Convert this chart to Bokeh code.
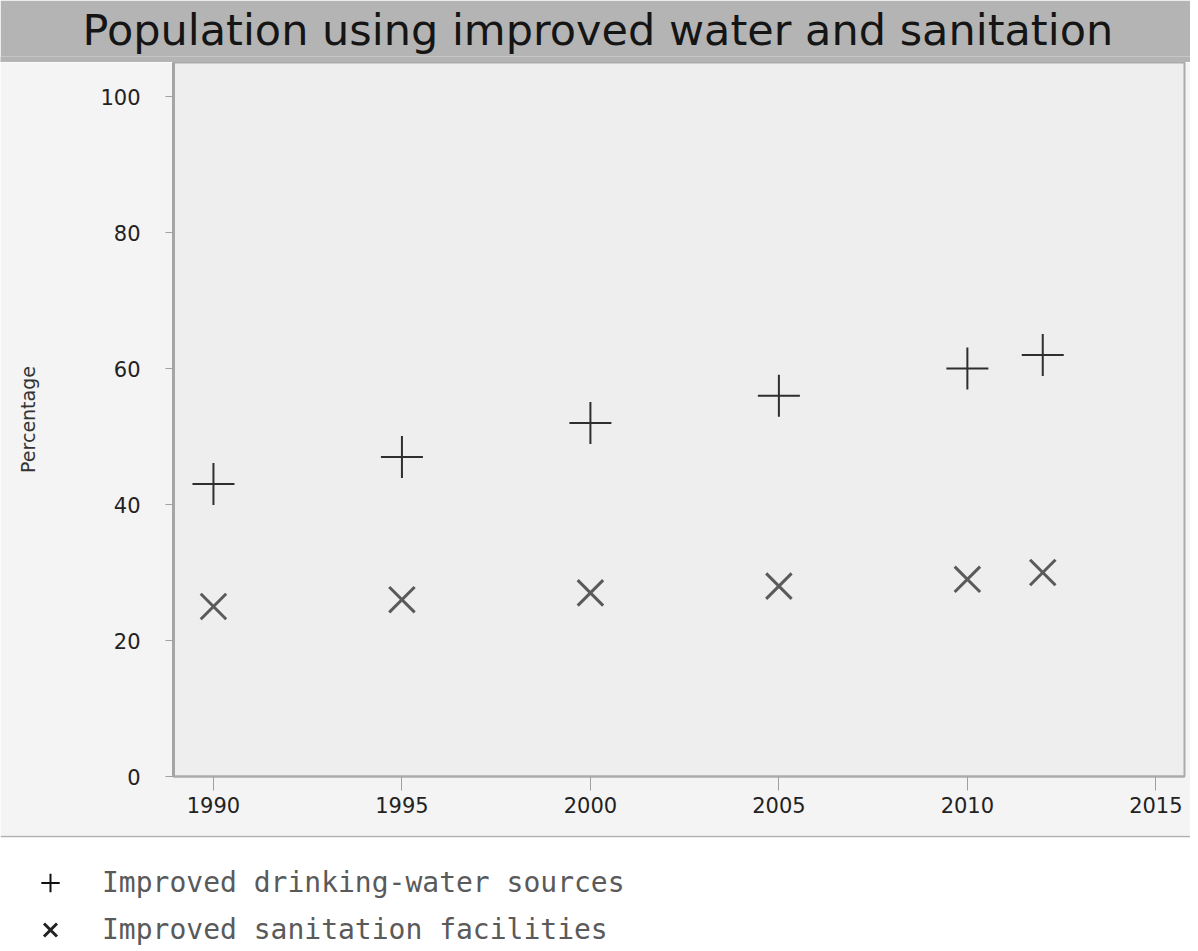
from bokeh.plotting import figure
from bokeh.models import Range1d, FixedTicker, Legend, LegendItem, ColumnDataSource
from bokeh.layouts import column
from bokeh.embed import file_html
from bokeh.resources import INLINE

# ---- data ----
title_text = "Population using improved water and sanitation"
years = [1990, 1995, 2000, 2005, 2010, 2012]
water = [43, 47, 52, 56, 60, 62]
sanitation = [25, 26, 27, 28, 29, 30]
x_ticks = [1990, 1995, 2000, 2005, 2010, 2015]
y_ticks = [0, 20, 40, 60, 80, 100]
series_labels = ["Improved drinking-water sources", "Improved sanitation facilities"]
y_label = "Percentage"

W = 1190
LEFT, RIGHT = 173, 6
BAND = "#b4b4b4"

# ---- title band ----
head = figure(width=W, height=62, output_backend="svg", toolbar_location=None,
              x_range=Range1d(0, 1), y_range=Range1d(0, 1), min_border=0,
              x_axis_location=None, y_axis_location=None, title=title_text)
head.frame_align = False
head.grid.visible = False
head.outline_line_color = None
head.background_fill_color = BAND
head.border_fill_color = BAND
head.title.align = "left"
head.title.offset = 82
head.title.standoff = 4
head.title.text_font = "DejaVu Sans"
head.title.text_font_size = "43px"
head.title.text_font_style = "normal"
head.title.text_color = "#151515"

# ---- main plot ----
p = figure(width=W, height=773, output_backend="svg", toolbar_location=None,
           x_range=Range1d(1988.94, 2015.76), y_range=Range1d(0, 105),
           min_border_left=LEFT, min_border_right=RIGHT, min_border_top=0,
           min_border_bottom=59)
p.frame_align = False
p.grid.visible = False
p.background_fill_color = "#eeeeee"
p.border_fill_color = "#f4f4f4"
p.outline_line_color = "#ababab"
p.outline_line_width = 2

p.xaxis.ticker = FixedTicker(ticks=x_ticks)
p.yaxis.ticker = FixedTicker(ticks=y_ticks)

for ax in (p.xaxis, p.yaxis):
    ax.minor_tick_line_color = None
    ax.major_tick_in = 0
    ax.major_label_text_font = "DejaVu Sans"
    ax.major_label_text_font_size = "21px"
    ax.major_label_text_color = "#222222"
    ax.major_tick_line_color = "#a0a0a0"

p.yaxis.axis_line_color = "#a5a5a5"
p.yaxis.axis_line_width = 3
p.yaxis.major_tick_out = 8
p.yaxis.major_label_standoff = 25
p.yaxis.axis_label = y_label
p.yaxis.axis_label_text_font = "DejaVu Sans"
p.yaxis.axis_label_text_font_size = "19px"
p.yaxis.axis_label_text_font_style = "normal"
p.yaxis.axis_label_text_color = "#333333"
p.yaxis.axis_label_standoff = 58

p.xaxis.axis_line_color = "#ababab"
p.xaxis.axis_line_width = 2
p.xaxis.major_tick_out = 14
p.xaxis.major_label_standoff = 6

src = ColumnDataSource(dict(year=years, water=water, sanitation=sanitation))
water_style = dict(marker="cross", line_color="#2e2e2e", line_width=2)
san_style = dict(marker="x", line_color="#5a5a5a", line_width=3)
p.scatter("year", "water", source=src, size=42, **water_style)
p.scatter("year", "sanitation", source=src, size=36, **san_style)

# ---- legend strip (its own renderers lie outside its visible range) ----
foot = figure(width=W, height=114, output_backend="svg", toolbar_location=None,
              x_range=Range1d(0, 1), y_range=Range1d(0, 1),
              min_border_left=0, min_border_right=0, min_border_bottom=0,
              min_border_top=2, x_axis_location=None, y_axis_location=None)
foot.frame_align = False
foot.grid.visible = False
foot.outline_line_color = None
foot.background_fill_color = "white"
foot.border_fill_color = "#b0b0b0"
l1 = foot.scatter("year", "water", source=src, size=20, **water_style)
l2 = foot.scatter("year", "sanitation", source=src, size=20, **san_style)
l1.glyph.line_color = "#111111"
l2.glyph.line_color = "#222222"

legend = Legend(items=[LegendItem(label=series_labels[0], renderers=[l1]),
                       LegendItem(label=series_labels[1], renderers=[l2])],
                location=(27, -4), orientation="vertical",
                glyph_width=46, glyph_height=47, spacing=0, label_standoff=29,
                padding=0, margin=0, border_line_color=None,
                background_fill_alpha=0,
                label_text_font="DejaVu Sans Mono", label_text_font_size="28px",
                label_text_color="#5a5a5a")
foot.add_layout(legend)

layout = column(head, p, foot, spacing=0)
open("out.html", "w").write(file_html(layout, INLINE))
